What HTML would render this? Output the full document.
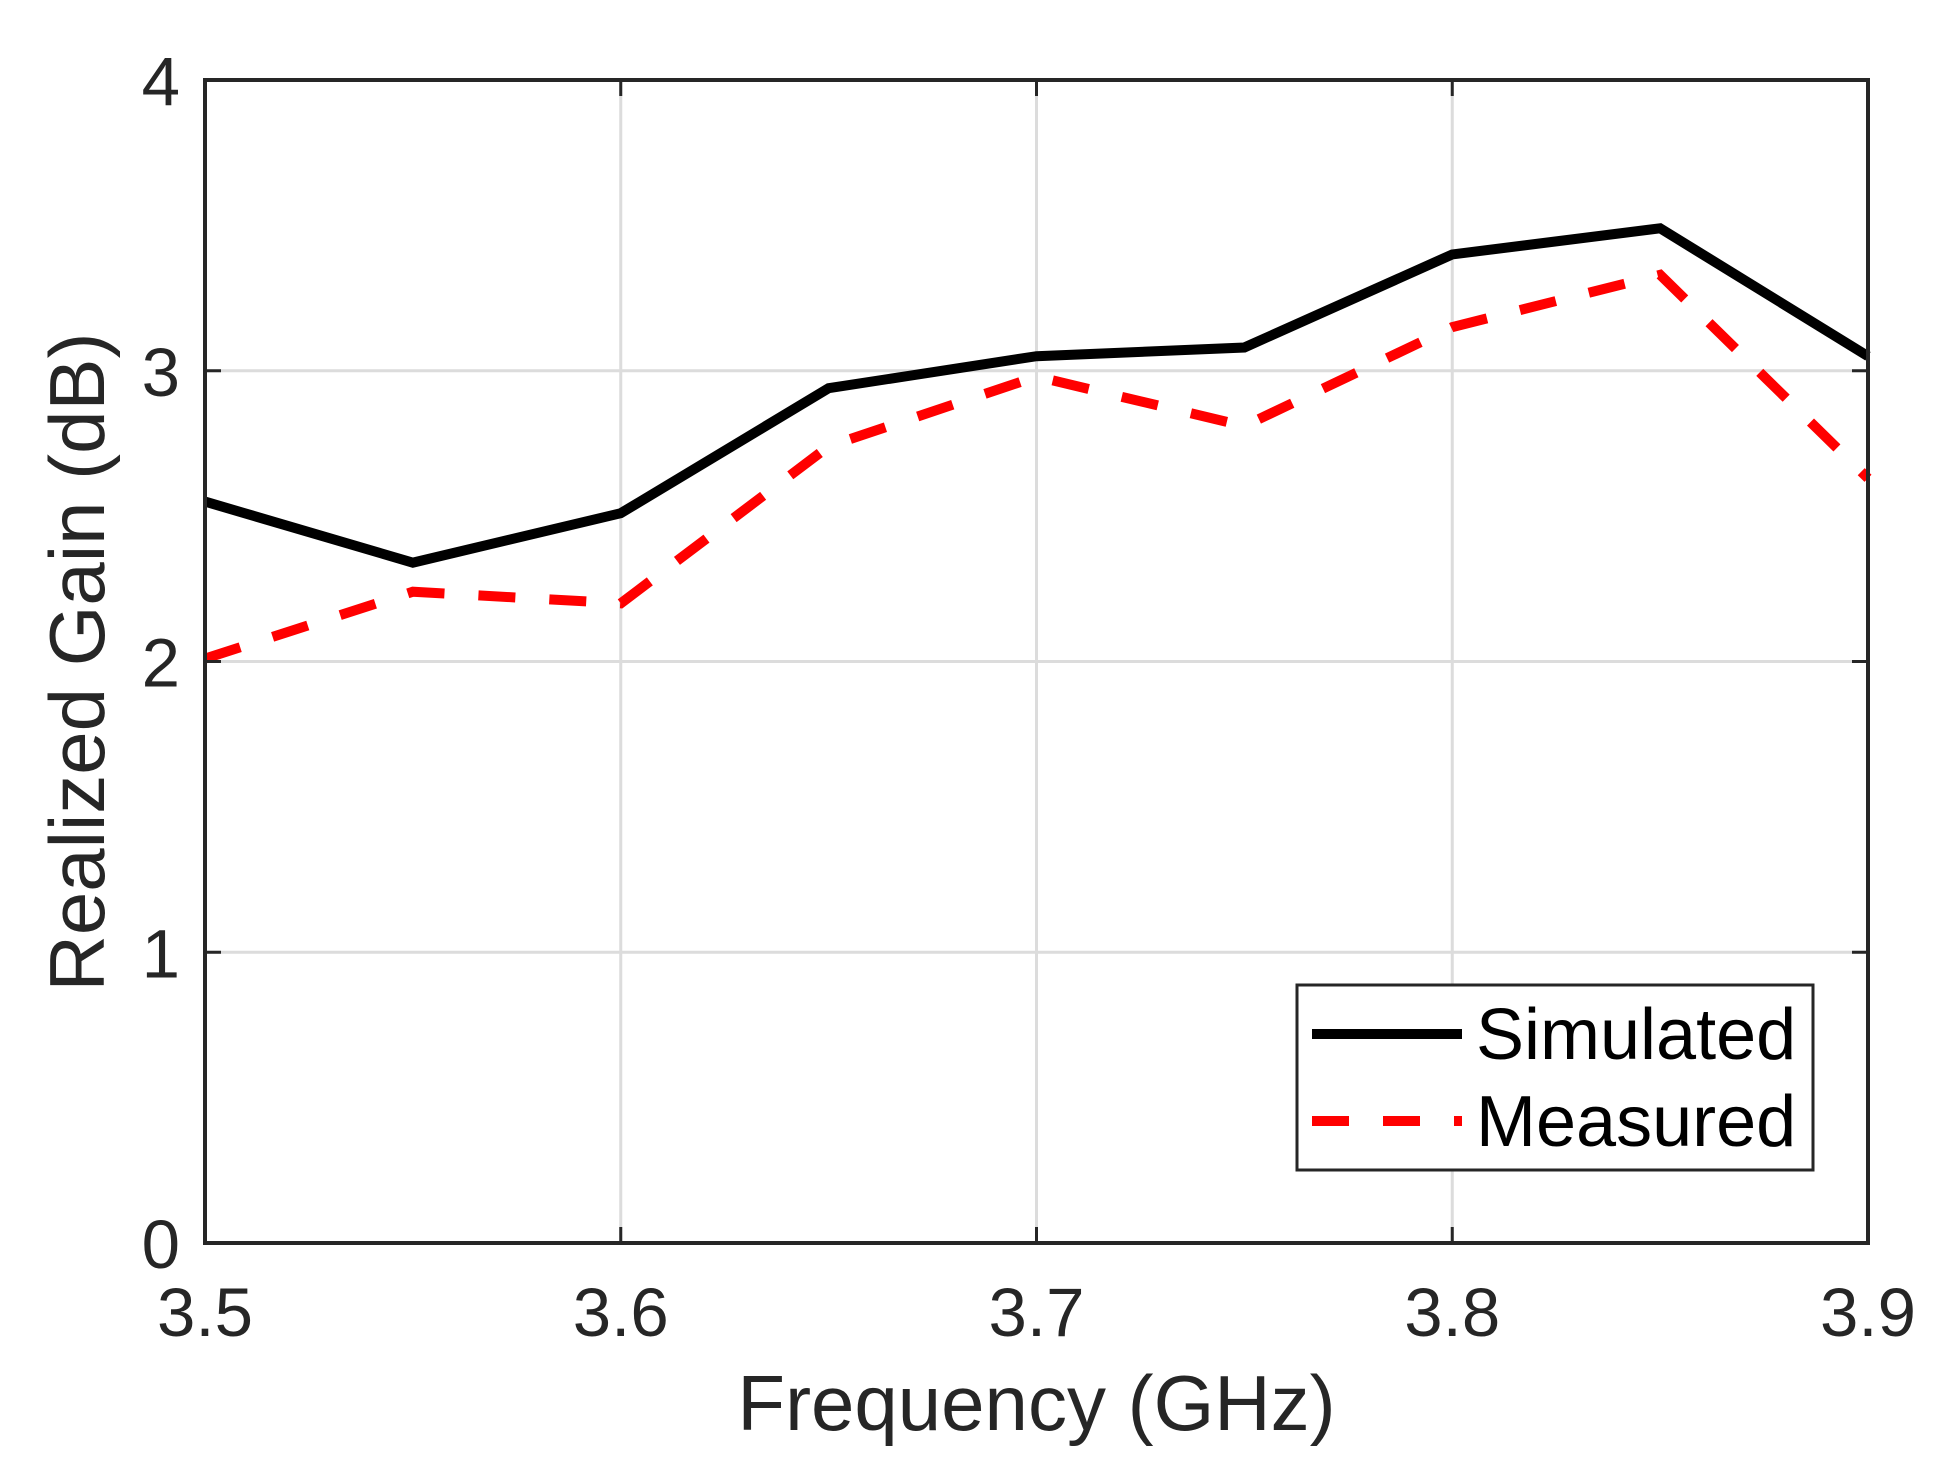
<!DOCTYPE html>
<html><head><meta charset="utf-8"><style>body{margin:0;background:#fff}svg{display:block}text{font-family:"Liberation Sans",sans-serif;fill:#262626}</style></head>
<body>
<svg id="chart" width="1938" height="1462" xmlns="http://www.w3.org/2000/svg">
<g id="grid"></g><g id="series"></g><g id="axes"></g>
</svg>
<script>
const freqs=[3.5,3.55,3.6,3.65,3.7,3.75,3.8,3.85,3.9];
const simulated=[2.55,2.34,2.51,2.94,3.05,3.08,3.40,3.49,3.05];
const measured=[2.01,2.24,2.20,2.74,2.98,2.81,3.15,3.33,2.63];
const xTicks=[3.5,3.6,3.7,3.8,3.9];
const xTickLabels=["3.5","3.6","3.7","3.8","3.9"];
const yTicks=[0,1,2,3,4];
const yTickLabels=["0","1","2","3","4"];
const L=205,R=1868,T=80,B=1243;
const xs=v=>L+(v-3.5)/0.4*(R-L);
const ys=v=>B-v/4*(B-T);
const NS="http://www.w3.org/2000/svg";
function mk(tag,attrs,parent){const e=document.createElementNS(NS,tag);for(const k in attrs)e.setAttribute(k,attrs[k]);parent.appendChild(e);return e;}
const grid=document.getElementById('grid'),axes=document.getElementById('axes'),ser=document.getElementById('series');
xTicks.forEach((t,i)=>{
 const g=mk('line',{x1:xs(t),x2:xs(t),y1:T,y2:B,stroke:'#dcdcdc','stroke-width':3},grid);
 
 const a=mk('line',{x1:xs(t),x2:xs(t),y1:B,y2:B-16,stroke:'#262626','stroke-width':3},axes);
 
 const b=mk('line',{x1:xs(t),x2:xs(t),y1:T,y2:T+16,stroke:'#262626','stroke-width':3},axes);
 
 const tx=mk('text',{x:xs(t),y:1336,'font-size':69,'text-anchor':'middle'},axes);tx.textContent=xTickLabels[i];
 
});
yTicks.forEach((t,i)=>{
 const g=mk('line',{x1:L,x2:R,y1:ys(t),y2:ys(t),stroke:'#dcdcdc','stroke-width':3},grid);
 
 const a=mk('line',{x1:L,x2:L+16,y1:ys(t),y2:ys(t),stroke:'#262626','stroke-width':3},axes);
 
 const b=mk('line',{x1:R,x2:R-16,y1:ys(t),y2:ys(t),stroke:'#262626','stroke-width':3},axes);
 
 const tx=mk('text',{x:180,y:ys(t)+25,'font-size':69,'text-anchor':'end'},axes);tx.textContent=yTickLabels[i];
 
});
function pts(arr){return arr.map((v,i)=>xs(freqs[i])+','+ys(v)).join(' ');}
const s=mk('polyline',{points:pts(simulated),fill:'none',stroke:'#000','stroke-width':10,'stroke-linejoin':'miter'},ser);

const m=mk('polyline',{points:pts(measured),fill:'none',stroke:'#ff0000','stroke-width':10,'stroke-dasharray':'37 34'},ser);

const fr=mk('rect',{x:L,y:T,width:R-L,height:B-T,fill:'none',stroke:'#262626','stroke-width':4},axes);

const xt=mk('text',{x:(L+R)/2,y:1430,'font-size':78,'text-anchor':'middle'},axes);xt.textContent='Frequency (GHz)';

const yt=mk('text',{x:0,y:0,'font-size':78,'text-anchor':'middle',transform:'translate(104,662) rotate(-90)'},axes);yt.textContent='Realized Gain (dB)';

const lg=mk('g',{},axes);

const lb=mk('rect',{x:1297,y:985,width:516,height:185,fill:'#fff',stroke:'#262626','stroke-width':3},lg);

const l1=mk('line',{x1:1312,x2:1462,y1:1034,y2:1034,stroke:'#000','stroke-width':10},lg);

const l2=mk('line',{x1:1312,x2:1462,y1:1121,y2:1121,stroke:'#ff0000','stroke-width':10,'stroke-dasharray':'37 34'},lg);

const t1=mk('text',{x:1476,y:1059,'font-size':72,style:'fill:#000'},lg);t1.textContent='Simulated';

const t2=mk('text',{x:1476,y:1146,'font-size':72,style:'fill:#000'},lg);t2.textContent='Measured';

</script>
</body></html>
